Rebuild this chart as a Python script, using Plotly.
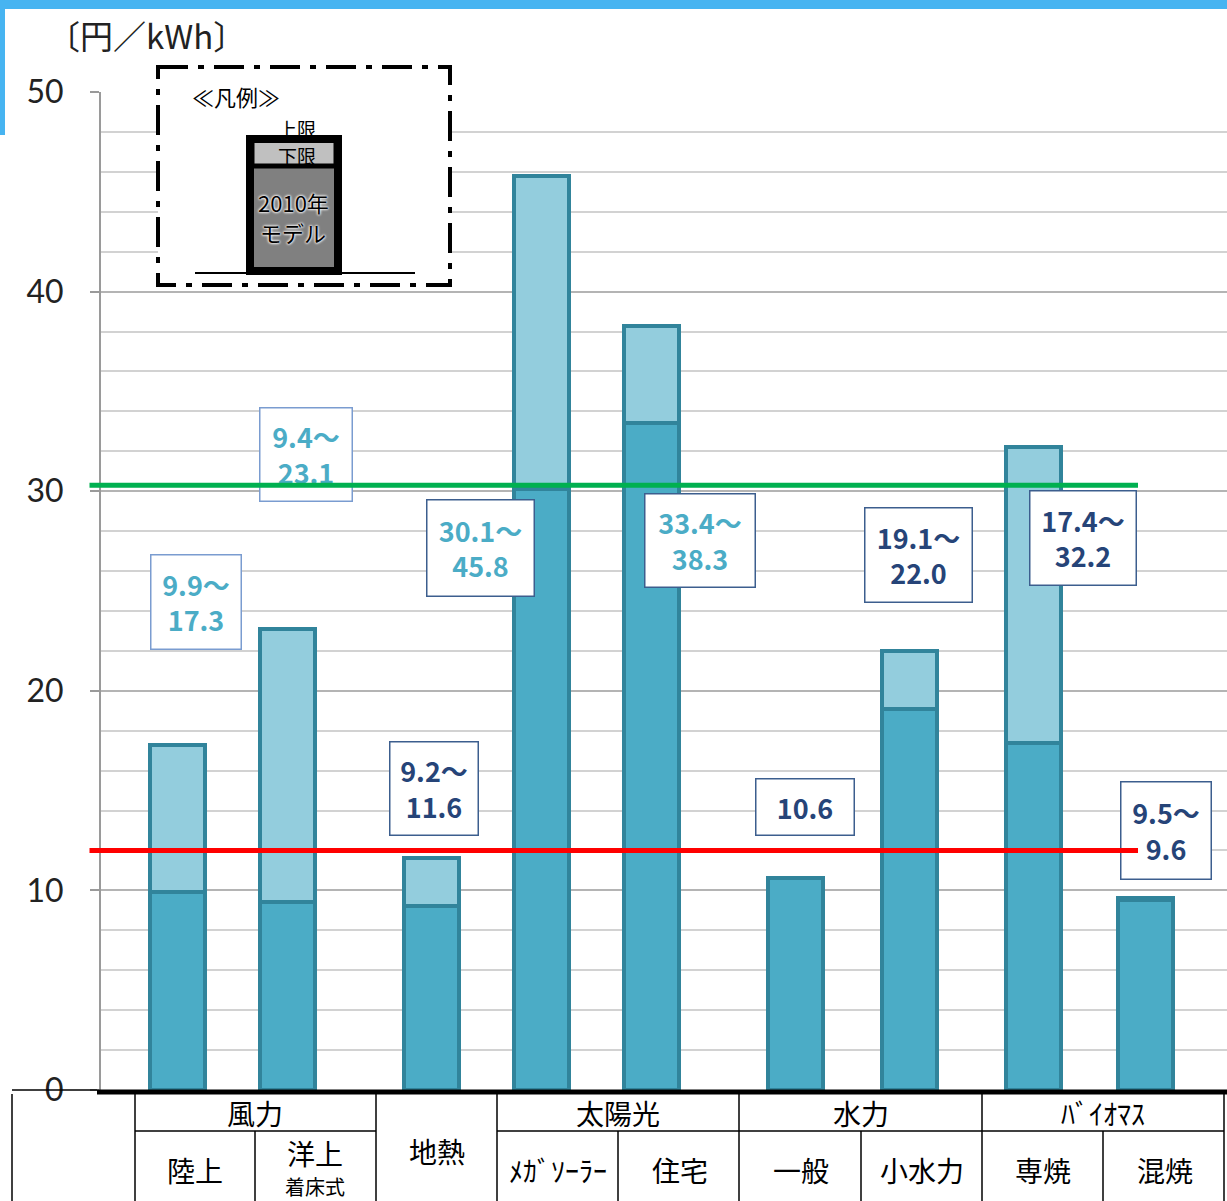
import plotly.graph_objects as go

# ---- data -------------------------------------------------------------
groups = ["風力", "地熱", "太陽光", "水力", "ﾊﾞｲｵﾏｽ"]
categories = ["陸上", "洋上", "地熱", "ﾒｶﾞｿｰﾗｰ", "住宅", "一般", "小水力", "専焼", "混焼"]
cost_low = [9.9, 9.4, 9.2, 30.1, 33.4, 10.6, 19.1, 17.4, 9.5]
cost_high = [17.3, 23.1, 11.6, 45.8, 38.3, None, 22.0, 32.2, 9.6]
green_level = 30.3
red_level = 12.0
y_ticks = [0, 10, 20, 30, 40, 50]

# ---- layout helpers (page pixels -> paper fractions) -------------------
W, H = 1227, 1201


def px(x):
    return x / W


def py(y):
    return 1 - y / H


BAR_X = [177, 287, 431, 541, 651, 795, 909, 1033, 1145]
BAR_W = 55
TEAL_DARK = "#4BACC6"
TEAL_LIGHT = "#93CDDD"
TEAL_EDGE = "#31849B"
NAVY = "#264478"
JP = "Noto Sans CJK JP"

fig = go.Figure()

fig.add_trace(go.Bar(
    x=BAR_X, y=cost_low, base=[0] * len(cost_low), width=BAR_W,
    marker=dict(color=TEAL_DARK, line=dict(color=TEAL_EDGE, width=4)),
    hoverinfo="skip", showlegend=False,
))
upper_len = [None if h is None else round(h - l, 2) for l, h in zip(cost_low, cost_high)]
fig.add_trace(go.Bar(
    x=BAR_X, y=upper_len, base=cost_low, width=BAR_W,
    marker=dict(color=TEAL_LIGHT, line=dict(color=TEAL_EDGE, width=4)),
    hoverinfo="skip", showlegend=False,
))

shapes = []


def hline(x0, x1, y, color="black", width=1.5):
    shapes.append(dict(type="line", xref="paper", yref="paper",
                       x0=px(x0), x1=px(x1), y0=py(y), y1=py(y),
                       line=dict(color=color, width=width), layer="above"))


def vline(x, y0, y1, color="black", width=1.5):
    shapes.append(dict(type="line", xref="paper", yref="paper",
                       x0=px(x), x1=px(x), y0=py(y0), y1=py(y1),
                       line=dict(color=color, width=width), layer="above"))


def rect(x0, y0, x1, y1, fill=None, color="black", width=0, dash=None):
    ln = dict(color=color, width=width)
    if dash:
        ln["dash"] = dash
    shapes.append(dict(type="rect", xref="paper", yref="paper",
                       x0=px(x0), x1=px(x1), y0=py(y0), y1=py(y1),
                       fillcolor=fill if fill else "rgba(0,0,0,0)",
                       line=ln, layer="above"))


# page decoration
rect(0, 0, W, 9, fill="#47B4F1")
rect(0, 0, 5, 135, fill="#47B4F1")

# category table under the axis
hline(97, 1227, 1092, width=5)
hline(12, 97, 1090)
hline(135, 376, 1131)
hline(497, 1224, 1131)
for xv in [12, 135, 376, 497, 739, 982, 1224]:
    vline(xv, 1094, 1201)
for xv in [255, 618, 861, 1103]:
    vline(xv, 1131, 1201)

# legend panel
rect(158, 67, 450, 285, fill="white", width=4, dash="30px,10px,6px,10px")
hline(195, 415, 273, width=2)
rect(252, 168, 336, 270, fill="#808080")
rect(252, 140, 336, 166, fill="#C0C0C0", width=5)
rect(250, 139, 338, 271, width=8)

annotations = []


def label(x, y, text, size=28, color="black", **kw):
    d = dict(x=px(x), y=py(y), xref="paper", yref="paper", text=text,
             showarrow=False, xanchor="center", yanchor="middle",
             font=dict(family=JP, size=size, color=color))
    d.update(kw)
    annotations.append(d)


# axis unit
label(146, 35, "〔円／kWh〕", size=33, color="#222222")

# legend texts
label(236, 96, "≪凡例≫", size=22)
label(297, 128, "上限", size=19)
label(297, 155, "下限", size=19)
shadow = "0 0 3px white, 0 0 3px white, 0 0 2px white"
label(293, 202, "2010年", font=dict(family=JP, size=22, color="black", shadow=shadow))
label(293, 232, "モデル", font=dict(family=JP, size=22, color="black", shadow=shadow))

# table texts
group_pos = [(255, 1113), (437, 1151), (618, 1113), (861, 1113), (1103, 1113)]
for g, (xg, yg) in zip(groups, group_pos):
    label(xg, yg, g, size=28)
cat_pos = [(195, 1170), (315, 1153), None, (558, 1170), (680, 1170),
           (801, 1170), (922, 1170), (1043, 1170), (1165, 1170)]
for c, p in zip(categories, cat_pos):
    if p is not None:
        label(p[0], p[1], c, size=28)
label(315, 1186, "着床式", size=20)

# value boxes
box_geom = [  # centre x, centre y, width, height
    (196, 602, 92, 96), (306, 455, 94, 95), (434, 788, 90, 95),
    (480, 548, 109, 98), (700, 540, 112, 95), (805, 807, 100, 58),
    (918, 555, 109, 96), (1083, 538, 108, 96), (1166, 830, 92, 99),
]
text_col = [TEAL_DARK, TEAL_DARK, NAVY, TEAL_DARK, TEAL_DARK, NAVY, NAVY, NAVY, NAVY]
edge_col = ["#7A9CD0", "#7A9CD0", "#3C5E8E", "#3C5E8E", "#3C5E8E",
            "#3C5E8E", "#3C5E8E", "#3C5E8E", "#3C5E8E"]
for lo, hi, (bx, by, bw, bh), tc, ec in zip(cost_low, cost_high, box_geom, text_col, edge_col):
    txt = f"{lo:.1f}" if hi is None else f"{lo:.1f}～<br>{hi:.1f}"
    label(bx, by, f"<b>{txt}</b>", size=27, color=tc,
          width=bw - 3, height=bh - 3, bgcolor="white",
          bordercolor=ec, borderwidth=1.5, borderpad=0)

# reference levels drawn on top of the boxes
for lvl, col in [(green_level, "#00B050"), (red_level, "#FF0000")]:
    annotations.append(dict(
        x=px(1138), y=lvl, xref="paper", yref="y", text="",
        showarrow=True, arrowhead=0, arrowwidth=5, arrowcolor=col,
        ax=-(1138 - 88), ay=0, axref="pixel", ayref="pixel",
        standoff=0, startstandoff=0,
    ))

fig.update_layout(
    width=W, height=H, autosize=False,
    margin=dict(l=0, r=0, t=0, b=0, pad=0, autoexpand=False),
    paper_bgcolor="white", plot_bgcolor="white",
    barmode="overlay", bargap=0,
    shapes=shapes, annotations=annotations,
    xaxis=dict(domain=[px(101), 1], range=[101, W], showgrid=False, automargin=False,
               zeroline=False, showticklabels=False, ticks="", fixedrange=True),
    yaxis=dict(domain=[py(1090), py(92)], range=[0, 50], automargin=False,
               tickvals=y_ticks, ticktext=[str(v) for v in y_ticks],
               ticks="outside", ticklen=9, tickwidth=2, tickcolor="#9a9a9a",
               ticklabelstandoff=20,
               tickfont=dict(family="Lato", size=32, color="#222222"),
               showline=True, linecolor="#9a9a9a", linewidth=2,
               showgrid=True, gridcolor="#b4b4b4", gridwidth=2,
               minor=dict(dtick=2, showgrid=True, gridcolor="#d2d2d2", gridwidth=2, ticks=""),
               zeroline=False, fixedrange=True),
)

fig.write_html("out.html")
